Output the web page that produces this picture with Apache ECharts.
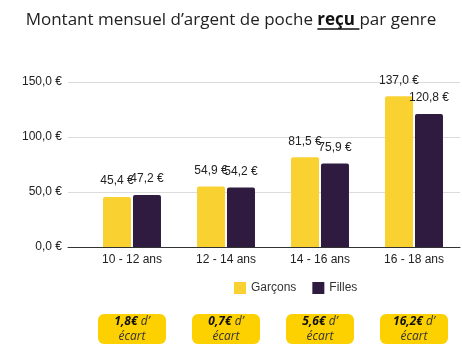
<!DOCTYPE html>
<html>
<head>
<meta charset="utf-8">
<script src="https://cdn.jsdelivr.net/npm/echarts@6/dist/echarts.min.js"></script>
<style>html,body{margin:0;padding:0;background:#fff}#c{width:462px;height:347px}</style>
</head>
<body>
<div id="c"></div>
<script>
var categories = ['10 - 12 ans', '12 - 14 ans', '14 - 16 ans', '16 - 18 ans'];
var garcons = [45.4, 54.9, 81.5, 137.0];
var filles = [47.2, 54.2, 75.9, 120.8];
var ecarts = ['1,8€', '0,7€', '5,6€', '16,2€'];
var seriesNames = ['Garçons', 'Filles'];
var yTicks = {min: 0, max: 150, interval: 50};

var YELLOW = '#F9D232', PURPLE = '#2F1A40', BOX = '#FDD000';
function euro(v) { return v.toFixed(1).replace('.', ',') + ' €'; }

var chart = echarts.init(document.getElementById('c'), null, {renderer: 'canvas'});
var labelOpt = {
  show: true, position: 'top', distance: 10, color: '#222',
  fontFamily: 'Liberation Sans, Arial, sans-serif', fontSize: 12,
  formatter: function (p) { return euro(p.value); }
};
chart.setOption({
  animation: false,
  title: {
    text: '{a|Montant mensuel d\u2019argent de poche }{b|reçu }{a|par genre}',
    left: 'center', top: 7,
    textStyle: {
      fontWeight: 'normal',
      rich: {
        a: {fontFamily: 'Open Sans, sans-serif', fontSize: 17, fontWeight: 'normal', color: '#222'},
        b: {fontFamily: 'Open Sans, sans-serif', fontSize: 17, fontWeight: 'bold', color: '#111'}
      }
    }
  },
  legend: {
    data: seriesNames, left: 229, top: 277, itemWidth: 12, itemHeight: 12, itemGap: 16,
    icon: 'rect',
    textStyle: {fontFamily: 'Liberation Sans, Arial, sans-serif', fontSize: 12, color: '#333'}
  },
  grid: [
    {left: 68, right: 2, top: 82, bottom: 100},
    {left: 85, right: 1, top: 82, bottom: 100}
  ],
  xAxis: [
    {gridIndex: 0, type: 'category', data: categories, axisLine: {lineStyle: {color: '#333'}}, axisTick: {show: false}, axisLabel: {show: false}},
    {gridIndex: 1, type: 'category', data: categories, axisLine: {show: false}, axisTick: {show: false},
     axisLabel: {margin: 7, color: '#222', fontFamily: 'Liberation Sans, Arial, sans-serif', fontSize: 12}}
  ],
  yAxis: [
    {gridIndex: 0, type: 'value', min: yTicks.min, max: yTicks.max, interval: yTicks.interval,
     axisLabel: {formatter: euro, margin: 6, color: '#222', fontFamily: 'Liberation Sans, Arial, sans-serif', fontSize: 12},
     splitLine: {lineStyle: {color: '#dcdcdc'}}, axisLine: {show: false}, axisTick: {show: false}},
    {gridIndex: 1, type: 'value', min: yTicks.min, max: yTicks.max, interval: yTicks.interval, show: false}
  ],
  series: [
    {name: seriesNames[0], type: 'bar', xAxisIndex: 1, yAxisIndex: 1, data: garcons, barWidth: 28, barGap: '7%',
     itemStyle: {color: YELLOW, borderRadius: [2, 2, 0, 0]}, label: labelOpt},
    {name: seriesNames[1], type: 'bar', xAxisIndex: 1, yAxisIndex: 1, data: filles, barWidth: 28,
     itemStyle: {color: PURPLE, borderRadius: [2, 2, 0, 0]}, label: labelOpt}
  ]
});

var graphics = [];
categories.forEach(function (c, i) {
  var cx = chart.convertToPixel({xAxisIndex: 1}, c);
  graphics.push({
    type: 'group', x: cx - 34, y: 314,
    children: [
      {type: 'rect', shape: {x: 0, y: 0, width: 68, height: 30, r: 6}, style: {fill: BOX}},
      {type: 'text', x: 34, y: 15, style: {
        text: '{b|' + ecarts[i] + '}{i| d\u2019}\n{i|écart}',
        align: 'center', verticalAlign: 'middle', lineHeight: 15,
        rich: {
          b: {fontFamily: 'Open Sans, sans-serif', fontSize: 12, fontWeight: 'bold', fontStyle: 'italic', fill: '#111', lineHeight: 15},
          i: {fontFamily: 'Open Sans, sans-serif', fontSize: 12, fontStyle: 'italic', fill: '#333', lineHeight: 15}
        }
      }}
    ]
  });
});
chart.setOption({graphic: graphics});

// underline under "reçu", measured from the rendered title text
var full = 'Montant mensuel d\u2019argent de poche reçu par genre';
var fa = '17px "Open Sans", sans-serif', fb = 'bold 17px "Open Sans", sans-serif';
var wPre = echarts.format.getTextRect ? 0 : 0;
var cv = document.createElement('canvas').getContext('2d');
cv.font = fa; var w1 = cv.measureText('Montant mensuel d\u2019argent de poche ').width;
var w3 = cv.measureText('par genre').width;
cv.font = fb; var w2 = cv.measureText('reçu ').width;
var total = w1 + w2 + w3;
var x0 = (462 - total) / 2 + w1;
chart.setOption({graphic: graphics.concat([{
  type: 'line', shape: {x1: x0, y1: 29, x2: x0 + w2, y2: 29}, style: {stroke: '#111', lineWidth: 1.5}
}])});
</script>
</body>
</html>
